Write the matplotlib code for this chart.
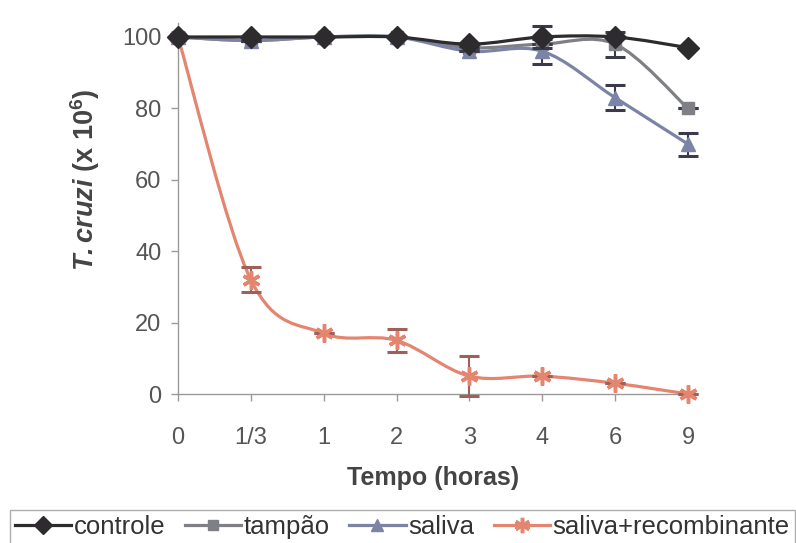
import matplotlib.pyplot as plt
import numpy as np
from matplotlib.path import Path
from matplotlib.patches import PathPatch
from matplotlib.lines import Line2D

plt.rcParams['font.family'] = ['Liberation Sans', 'DejaVu Sans']
plt.rcParams['mathtext.fontset'] = 'custom'
plt.rcParams['mathtext.rm'] = 'Liberation Sans'
plt.rcParams['mathtext.bf'] = 'Liberation Sans:bold'
plt.rcParams['mathtext.it'] = 'Liberation Sans:italic'
plt.rcParams['mathtext.bfit'] = 'Liberation Sans:bold:italic'

# data
tempo = ["0", "1/3", "1", "2", "3", "4", "6", "9"]

controle = [100, 100, 100, 100, 98, 100, 100, 97]
controle_err = [0, 0, 0, 0, 0, 3, 0, 0]

tampao = [100, 99, 100, 100, 97, 98, 98, 80]
tampao_err = [0, 0, 0, 0, 0, 0, 3.5, 0]

saliva = [100, 99, 100, 100, 96, 96, 83, 70]
saliva_err = [0, 0, 0, 0, 0, 3.5, 3.5, 3.2]

recomb = [100, 32, 17, 15, 5, 5, 3, 0]
recomb_err = [0, 3.5, 0, 3.3, 5.6, 0, 0, 0]


def smooth_path(x, y):
    # catmull-rom style bezier through the points (like excel smoothed lines)
    pts = np.column_stack([x, y]).astype(float)
    ext = np.vstack([pts[0], pts, pts[-1]])
    verts = [pts[0]]
    codes = [Path.MOVETO]
    for i in range(len(pts) - 1):
        p0, p1, p2, p3 = ext[i], ext[i + 1], ext[i + 2], ext[i + 3]
        verts += [p1 + (p2 - p0) / 6., p2 - (p3 - p1) / 6., p2]
        codes += [Path.CURVE4] * 3
    return Path(verts, codes)


fig = plt.figure(figsize=(7.96, 5.43), dpi=100)
ax = fig.add_axes([0.2236, 0.2744, 0.6407, 0.6838])

series = [
    ("controle", controle, controle_err, "#2e2b2e", "D", 11, None),
    ("tampão", tampao, tampao_err, "#7f7f86", "s", 8, None),
    ("saliva", saliva, saliva_err, "#7b84a6", "^", 10, None),
    ("saliva+recombinante", recomb, recomb_err, "#e4856f", (6, 2, 0), 13, 2.5),
]

xpos = np.arange(len(tempo))
handles = []
for i, (name, vals, err, col, mk, ms, mew) in enumerate(series):
    z = 3 + i
    if name == "controle":
        z = 6.5
    ax.add_patch(PathPatch(smooth_path(xpos, vals), facecolor="none", edgecolor=col,
                           lw=2.3, zorder=z, clip_on=False))
    ax.errorbar(xpos, vals, yerr=err, fmt="none", ecolor="#3a3a4a" if i < 3 else "#a0605a",
                elinewidth=1.5, capsize=7, capthick=2.2, zorder=z, clip_on=False)
    kw = dict(linestyle="none", marker=mk, markersize=ms, color=col, zorder=z + 0.1, clip_on=False)
    if mew:
        kw["markeredgewidth"] = mew
    ax.plot(xpos, vals, **kw)
    handles.append(Line2D([], [], color=col, lw=2.3, marker=mk, markersize=ms * 0.85,
                          markeredgewidth=mew if mew else 1.0, label=name))

ax.set_xlim(0, 7)
ax.set_ylim(0, 104)
ax.set_yticks([0, 20, 40, 60, 80, 100])
ax.set_xticks(xpos)
ax.set_xticklabels(tempo)
for s in ["top", "right"]:
    ax.spines[s].set_visible(False)
for s in ["left", "bottom"]:
    ax.spines[s].set_color("#9a9a9a")
    ax.spines[s].set_linewidth(1.0)
ax.tick_params(axis="both", colors="#9a9a9a", length=5, width=1.0, labelsize=17,
               labelcolor="#555555", direction="out")
ax.tick_params(axis="x", pad=19)
ax.tick_params(axis="y", pad=7)

ax.set_xlabel("Tempo (horas)", fontsize=18, fontweight="bold", color="#444444")
ax.xaxis.set_label_coords(0.5, -0.195)
ax.set_ylabel(r"$\mathbfit{T{.}cruzi}$ $\mathbf{(x\ 10^6)}$", fontsize=19.5, color="#444444")
ax.yaxis.set_label_coords(-0.149, 0.577)

leg = fig.legend(handles=handles, loc="lower left", bbox_to_anchor=(0.012, -0.003), ncol=4,
                 fontsize=18.5, frameon=True, fancybox=False, handlelength=2.2,
                 handletextpad=0.1, columnspacing=0.75, borderpad=0.2, borderaxespad=0,
                 labelcolor="#333333")
leg.get_frame().set_edgecolor("#9a9a9a")
leg.get_frame().set_linewidth(1.0)

plt.savefig("out.png", dpi=100)
